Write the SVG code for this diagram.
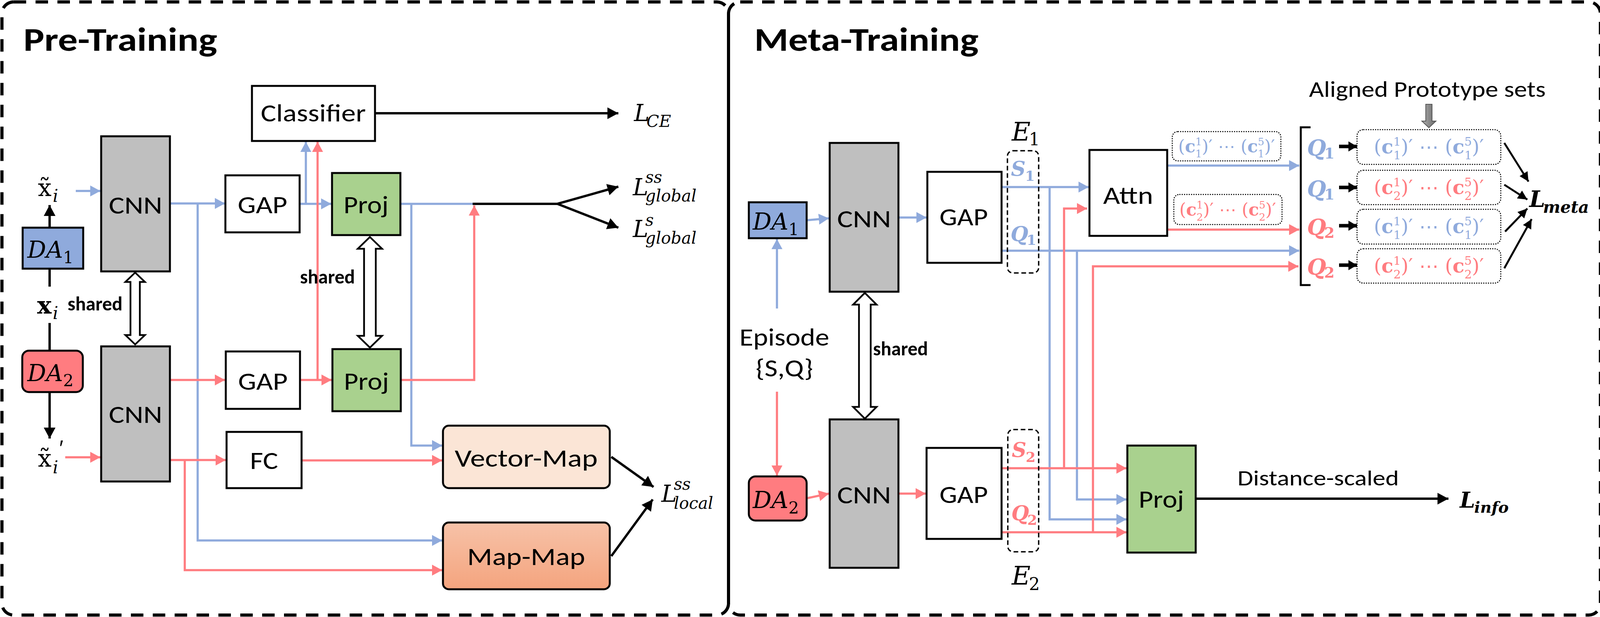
<svg xmlns="http://www.w3.org/2000/svg" width="4103" height="1580" viewBox="0 0 4103 1580">
<style>
.sans{font-family:Carlito,"Liberation Sans",Arial,sans-serif}
.lbl{font-size:63px;text-anchor:middle}
.bold{font-weight:bold}
.title{font-size:85px;font-weight:bold}
.shared{font-size:50px;font-weight:bold}
.m{font-family:"DejaVu Serif","Liberation Serif",serif}
.it{font-style:italic}
.bi{font-style:italic;font-weight:bold}
.cx{font-family:"DejaVu Serif","Liberation Serif",serif;font-size:50px;text-anchor:middle}
.cs{font-family:"DejaVu Serif","Liberation Serif",serif;font-size:44px;text-anchor:middle}
.bf{font-weight:bold}
.sb{font-size:30px}
.ss{font-size:26px}
.fb{fill:#8faadc}
.fr{fill:#ff7c80}
.box{stroke:#000;stroke-width:5}
.ln{fill:none;stroke-linejoin:miter}
.lb{stroke:#8faadc;stroke-width:5.5}
.lr{stroke:#ff7c80;stroke-width:5.5}
.lk{stroke:#000;stroke-width:6}
.dbl{fill:#fff;stroke:#000;stroke-width:4.5}
.dot{fill:none;stroke:#000;stroke-width:2.5;stroke-dasharray:3 3}
.dash{fill:none;stroke:#000;stroke-width:3.5;stroke-dasharray:12 7}
</style>
<defs>
<marker id="mb" viewBox="0 0 26 28" refX="26" refY="14" markerWidth="26" markerHeight="28" markerUnits="userSpaceOnUse" orient="auto"><path d="M0,0L26,14L0,28z" fill="#8faadc"/></marker>
<marker id="mr" viewBox="0 0 26 28" refX="26" refY="14" markerWidth="26" markerHeight="28" markerUnits="userSpaceOnUse" orient="auto"><path d="M0,0L26,14L0,28z" fill="#ff7c80"/></marker>
<marker id="mk" viewBox="0 0 28 30" refX="28" refY="15" markerWidth="28" markerHeight="30" markerUnits="userSpaceOnUse" orient="auto"><path d="M0,0L28,15L0,30z" fill="#000"/></marker>
<marker id="mk2" viewBox="0 0 24 24" refX="24" refY="12" markerWidth="24" markerHeight="24" markerUnits="userSpaceOnUse" orient="auto"><path d="M0,0L24,12L0,24z" fill="#000"/></marker>
<marker id="mk3" viewBox="0 0 22 26" refX="22" refY="13" markerWidth="22" markerHeight="26" markerUnits="userSpaceOnUse" orient="auto"><path d="M0,0L22,13L0,26z" fill="#000"/></marker>
<linearGradient id="gmm" x1="0" y1="0" x2="0" y2="1"><stop offset="0" stop-color="#f7c2a8"/><stop offset="1" stop-color="#f4a47e"/></linearGradient>
<linearGradient id="ggray" x1="0" y1="0" x2="1" y2="0"><stop offset="0" stop-color="#b0b0b0"/><stop offset="0.5" stop-color="#8a8a8a"/><stop offset="1" stop-color="#6e6e6e"/></linearGradient>
</defs>
<rect width="4103" height="1580" fill="#fff"/>

<g id="panels">
<rect x="5" y="5" width="1860" height="1570" rx="30" fill="none" stroke="#000" stroke-width="8" stroke-dasharray="32 24"/>
<rect x="1865" y="5" width="2232" height="1570" rx="30" fill="none" stroke="#000" stroke-width="8" stroke-dasharray="32 24"/>
<text class="sans title" x="60" y="130" textLength="496" lengthAdjust="spacingAndGlyphs">Pre-Training</text>
<text class="sans title" x="1931" y="130" textLength="574" lengthAdjust="spacingAndGlyphs">Meta-Training</text>
</g>

<g id="connectors">
<path class="ln lb" d="M194,489H257" marker-end="url(#mb)"/>
<path class="ln lb" d="M435,521H576" marker-end="url(#mb)"/>
<path class="ln lb" d="M506,521V1384H1132" marker-end="url(#mb)"/>
<path class="ln lb" d="M767,522H848" marker-end="url(#mb)"/>
<path class="ln lb" d="M783,522V363" marker-end="url(#mb)"/>
<path class="ln lb" d="M1025,522H1212"/>
<path class="ln lb" d="M1053,522V1141H1132" marker-end="url(#mb)"/>
<path class="ln lr" d="M167,1171H257" marker-end="url(#mr)"/>
<path class="ln lr" d="M435,973H576" marker-end="url(#mr)"/>
<path class="ln lr" d="M768,973H849" marker-end="url(#mr)"/>
<path class="ln lr" d="M813,973V363" marker-end="url(#mr)"/>
<path class="ln lr" d="M1026,973H1214V526" marker-end="url(#mr)"/>
<path class="ln lr" d="M435,1178H578" marker-end="url(#mr)"/>
<path class="ln lr" d="M473,1178V1460H1132" marker-end="url(#mr)"/>
<path class="ln lr" d="M772,1179H1132" marker-end="url(#mr)"/>
<path class="ln lk" d="M960,290H1583" marker-end="url(#mk)"/>
<path class="ln lk" d="M1210,522H1427L1583,478" marker-end="url(#mk)"/>
<path class="ln lk" d="M1427,522L1583,583" marker-end="url(#mk)"/>
<path class="ln lk" d="M127,583V525" marker-end="url(#mk)"/>
<path class="ln lk" d="M127,688V734M127,827V898"/>
<path class="ln lk" d="M127,1004V1123" marker-end="url(#mk)"/>
<path class="ln lk" d="M1565,1170L1673,1247" marker-end="url(#mk)"/>
<path class="ln lk" d="M1565,1424L1671,1279" marker-end="url(#mk)"/>
<polygon class="dbl" points="346,698 371,722 358,722 358,858 371,858 346,882 321,858 334,858 334,722 321,722"/>
<polygon class="dbl" points="947,607 978,637 962,637 962,860 978,860 947,890 916,860 932,860 932,637 916,637"/>
<path class="ln lb" d="M1989,790V612" marker-end="url(#mb)"/>
<path class="ln lb" d="M2065,564L2122,559" marker-end="url(#mb)"/>
<path class="ln lb" d="M2300,557H2372" marker-end="url(#mb)"/>
<path class="ln lb" d="M2564,479H2787" marker-end="url(#mb)"/>
<path class="ln lb" d="M2564,642H3326" marker-end="url(#mb)"/>
<path class="ln lb" d="M2687,479V1330H2884" marker-end="url(#mb)"/>
<path class="ln lb" d="M2757,642V1279H2884" marker-end="url(#mb)"/>
<path class="ln lb" d="M2988,424H3326" marker-end="url(#mb)"/>
<path class="ln lr" d="M1989,1003V1218" marker-end="url(#mr)"/>
<path class="ln lr" d="M2065,1276L2122,1264" marker-end="url(#mr)"/>
<path class="ln lr" d="M2300,1264H2370" marker-end="url(#mr)"/>
<path class="ln lr" d="M2564,1199H2884" marker-end="url(#mr)"/>
<path class="ln lr" d="M2724,1199V534H2783" marker-end="url(#mr)"/>
<path class="ln lr" d="M2564,1363H2884" marker-end="url(#mr)"/>
<path class="ln lr" d="M2798,1363V682H3324" marker-end="url(#mr)"/>
<path class="ln lr" d="M2988,588H3326" marker-end="url(#mr)"/>
<polygon class="dbl" points="2214,750 2244,780 2229,780 2229,1042 2244,1042 2214,1072 2184,1042 2199,1042 2199,780 2184,780"/>
<path class="ln" stroke="#000" stroke-width="5" d="M3355,326H3330V730H3355"/>
<path class="ln" stroke="#000" stroke-width="9" d="M3428,375H3474" marker-end="url(#mk3)"/>
<path class="ln" stroke="#000" stroke-width="9" d="M3428,480H3474" marker-end="url(#mk3)"/>
<path class="ln" stroke="#000" stroke-width="9" d="M3428,578H3474" marker-end="url(#mk3)"/>
<path class="ln" stroke="#000" stroke-width="9" d="M3428,679H3474" marker-end="url(#mk3)"/>
<path class="ln" stroke="#000" stroke-width="5" d="M3851,366L3913,465" marker-end="url(#mk2)"/>
<path class="ln" stroke="#000" stroke-width="5" d="M3851,473L3910,511" marker-end="url(#mk2)"/>
<path class="ln" stroke="#000" stroke-width="5" d="M3853,593L3910,534" marker-end="url(#mk2)"/>
<path class="ln" stroke="#000" stroke-width="5" d="M3851,687L3921,561" marker-end="url(#mk2)"/>
<path class="ln lk" d="M3061,1277H3708" marker-end="url(#mk)"/>
<polygon points="3650,267 3666,267 3666,310 3676,310 3658,327 3640,310 3650,310" fill="url(#ggray)" stroke="#555" stroke-width="2"/>
</g>

<g id="classifier"><rect class="box" x="645" y="220" width="315" height="141" fill="#fff"/><text class="sans lbl" x="802" y="311" textLength="269" lengthAdjust="spacingAndGlyphs">Classifier</text></g>
<g id="cnn1"><rect class="box" x="259" y="349" width="176" height="346" fill="#bfbfbf"/><text class="sans lbl" x="347" y="547" textLength="137" lengthAdjust="spacingAndGlyphs">CNN</text></g>
<g id="cnn2"><rect class="box" x="259" y="887" width="176" height="346" fill="#bfbfbf"/><text class="sans lbl" x="347" y="1083" textLength="137" lengthAdjust="spacingAndGlyphs">CNN</text></g>
<g id="gap1"><rect class="box" x="577" y="449" width="190" height="146" fill="#fff"/><text class="sans lbl" x="672" y="546" textLength="127" lengthAdjust="spacingAndGlyphs">GAP</text></g>
<g id="gap2"><rect class="box" x="578" y="900" width="190" height="147" fill="#fff"/><text class="sans lbl" x="673" y="998" textLength="127" lengthAdjust="spacingAndGlyphs">GAP</text></g>
<g id="proj1"><rect class="box" x="850" y="443" width="175" height="159" fill="#a9d18e"/><text class="sans lbl" x="937" y="546" textLength="115" lengthAdjust="spacingAndGlyphs">Proj</text></g>
<g id="proj2"><rect class="box" x="851" y="894" width="175" height="159" fill="#a9d18e"/><text class="sans lbl" x="938" y="998" textLength="115" lengthAdjust="spacingAndGlyphs">Proj</text></g>
<g id="fc"><rect class="box" x="580" y="1106" width="192" height="144" fill="#fff"/><text class="sans lbl" x="676" y="1201" textLength="72" lengthAdjust="spacingAndGlyphs">FC</text></g>
<g id="vectormap"><rect class="box" x="1134" y="1090" width="427" height="160" rx="15" fill="#fbe5d6"/><text class="sans lbl" x="1347" y="1195" textLength="366" lengthAdjust="spacingAndGlyphs">Vector-Map</text></g>
<g id="mapmap"><rect class="box" x="1134" y="1338" width="427" height="171" rx="15" fill="url(#gmm)"/><text class="sans lbl" x="1347" y="1447" textLength="302" lengthAdjust="spacingAndGlyphs">Map-Map</text></g>
<g id="da1"><rect class="box" x="58" y="583" width="155" height="105" fill="#8faadc"/><text class="m" x="70" y="660" font-size="60"><tspan class="it">DA</tspan><tspan font-size="42" dy="14">1</tspan></text></g>
<g id="da2"><rect class="box" x="57" y="898" width="155" height="106" rx="17" fill="#ff7c80"/><text class="m" x="70" y="976" font-size="60"><tspan class="it">DA</tspan><tspan font-size="42" dy="13">2</tspan></text></g>
<g id="pre-labels">
<text class="m" x="97" y="502" font-size="62">x̃<tspan class="it" font-size="44" x="135" y="517">i</tspan></text>
<text class="m" x="95" y="803" font-size="62"><tspan class="bf">x</tspan><tspan class="it" font-size="44" x="135" y="817">i</tspan></text>
<text class="m" x="97" y="1195" font-size="62">x̃<tspan class="it" font-size="44" x="135" y="1212">i</tspan><tspan class="sans it" font-size="56" x="149" y="1166">′</tspan></text>
<text class="sans shared" x="173" y="795">shared</text>
<text class="sans shared" x="768" y="726">shared</text>
<text class="m it" x="1623" y="310" font-size="60">L<tspan font-size="42" x="1655" y="325">CE</tspan></text>
<text class="m it" x="1620" y="500" font-size="60">L<tspan font-size="42" x="1652" y="468">ss</tspan><tspan font-size="42" x="1652" y="516">global</tspan></text>
<text class="m it" x="1620" y="607" font-size="60">L<tspan font-size="42" x="1652" y="578">s</tspan><tspan font-size="42" x="1652" y="624">global</tspan></text>
<text class="m it" x="1693" y="1285" font-size="60">L<tspan font-size="42" x="1725" y="1254">ss</tspan><tspan font-size="42" x="1725" y="1303">local</tspan></text>
</g>

<g id="mda1"><rect class="box" x="1917" y="518" width="148" height="92" fill="#8faadc"/><text class="m" x="1927" y="588" font-size="60"><tspan class="it">DA</tspan><tspan font-size="42" dy="14">1</tspan></text></g>
<g id="mda2"><rect class="box" x="1917" y="1220" width="148" height="113" rx="17" fill="#ff7c80"/><text class="m" x="1927" y="1301" font-size="60"><tspan class="it">DA</tspan><tspan font-size="42" dy="14">2</tspan></text></g>
<g id="episode"><text class="sans lbl" x="2008" y="885" font-size="60" textLength="230" lengthAdjust="spacingAndGlyphs">Episode</text><text class="sans lbl" x="2008" y="964" textLength="147" lengthAdjust="spacingAndGlyphs">{S,Q}</text></g>
<g id="mcnn1"><rect class="box" x="2124" y="366" width="176" height="381" fill="#bfbfbf"/><text class="sans lbl" x="2212" y="582" textLength="138" lengthAdjust="spacingAndGlyphs">CNN</text></g>
<g id="mcnn2"><rect class="box" x="2124" y="1074" width="176" height="380" fill="#bfbfbf"/><text class="sans lbl" x="2212" y="1289" textLength="138" lengthAdjust="spacingAndGlyphs">CNN</text></g>
<text class="sans shared" x="2235" y="910">shared</text>
<g id="mgap1"><rect class="box" x="2374" y="440" width="190" height="233" fill="#fff"/><text class="sans lbl" x="2467" y="577" textLength="124" lengthAdjust="spacingAndGlyphs">GAP</text></g>
<g id="mgap2"><rect class="box" x="2372" y="1147" width="192" height="233" fill="#fff"/><text class="sans lbl" x="2467" y="1288" textLength="124" lengthAdjust="spacingAndGlyphs">GAP</text></g>
<g id="e1"><rect class="dash" x="2579" y="386" width="80" height="313" rx="14"/>
<text class="m" x="2590" y="360" font-size="66"><tspan class="it">E</tspan><tspan font-size="44" x="2634" y="372">1</tspan></text>
<text class="m bf fb" x="2588" y="450" font-size="52"><tspan class="it">S</tspan><tspan font-size="36" x="2624" y="463">1</tspan></text>
<text class="m bf fb" x="2587" y="617" font-size="52"><tspan class="it">Q</tspan><tspan font-size="36" x="2628" y="627">1</tspan></text></g>
<g id="e2"><rect class="dash" x="2580" y="1100" width="79" height="313" rx="14"/>
<text class="m" x="2590" y="1497" font-size="66"><tspan class="it">E</tspan><tspan font-size="44" x="2634" y="1511">2</tspan></text>
<text class="m bf fr" x="2590" y="1170" font-size="52"><tspan class="it">S</tspan><tspan font-size="36" x="2626" y="1183">2</tspan></text>
<text class="m bf fr" x="2589" y="1332" font-size="52"><tspan class="it">Q</tspan><tspan font-size="36" x="2630" y="1344">2</tspan></text></g>
<g id="attn"><rect class="box" x="2789" y="384" width="199" height="220" fill="#fff"/><text class="sans lbl" x="2888" y="522" textLength="128" lengthAdjust="spacingAndGlyphs">Attn</text></g>
<g id="mproj"><rect class="box" x="2886" y="1141" width="175" height="274" fill="#a9d18e"/><text class="sans lbl" x="2973" y="1300" textLength="116" lengthAdjust="spacingAndGlyphs">Proj</text></g>
<g id="proto-small">
<rect class="dot" x="3001" y="337" width="278" height="75" rx="14"/>
<text class="cs fb" x="3140" y="390">(<tspan class="bf">c</tspan><tspan class="ss" dy="-18">1</tspan><tspan class="ss" dx="-16.5" dy="31">1</tspan><tspan dy="-13">)′ ⋯ (</tspan><tspan class="bf">c</tspan><tspan class="ss" dy="-18">5</tspan><tspan class="ss" dx="-16.5" dy="31">1</tspan><tspan dy="-13">)′</tspan></text>
<rect class="dot" x="3005" y="498" width="277" height="77" rx="14"/>
<text class="cs fr" x="3143" y="552">(<tspan class="bf">c</tspan><tspan class="ss" dy="-18">1</tspan><tspan class="ss" dx="-16.5" dy="31">2</tspan><tspan dy="-13">)′ ⋯ (</tspan><tspan class="bf">c</tspan><tspan class="ss" dy="-18">5</tspan><tspan class="ss" dx="-16.5" dy="31">2</tspan><tspan dy="-13">)′</tspan></text>
</g>
<g id="proto-aligned">
<text class="sans" x="3654" y="248" font-size="57" text-anchor="middle" textLength="606" lengthAdjust="spacingAndGlyphs">Aligned Prototype sets</text>
<text class="m bf fb" x="3346" y="398" font-size="56"><tspan class="it">Q</tspan><tspan font-size="38" x="3390" y="406">1</tspan></text>
<text class="m bf fb" x="3346" y="503" font-size="56"><tspan class="it">Q</tspan><tspan font-size="38" x="3390" y="511">1</tspan></text>
<text class="m bf fr" x="3346" y="601" font-size="56"><tspan class="it">Q</tspan><tspan font-size="38" x="3390" y="609">2</tspan></text>
<text class="m bf fr" x="3346" y="703" font-size="56"><tspan class="it">Q</tspan><tspan font-size="38" x="3390" y="711">2</tspan></text>
<rect class="dot" x="3474" y="332" width="368" height="89" rx="16"/>
<text class="cx fb" x="3658" y="393">(<tspan class="bf">c</tspan><tspan class="sb" dy="-20">1</tspan><tspan class="sb" dx="-19" dy="35">1</tspan><tspan dy="-15">)′ ⋯ (</tspan><tspan class="bf">c</tspan><tspan class="sb" dy="-20">5</tspan><tspan class="sb" dx="-19" dy="35">1</tspan><tspan dy="-15">)′</tspan></text>
<rect class="dot" x="3474" y="436" width="368" height="88" rx="16"/>
<text class="cx fr" x="3658" y="497">(<tspan class="bf">c</tspan><tspan class="sb" dy="-20">1</tspan><tspan class="sb" dx="-19" dy="35">2</tspan><tspan dy="-15">)′ ⋯ (</tspan><tspan class="bf">c</tspan><tspan class="sb" dy="-20">5</tspan><tspan class="sb" dx="-19" dy="35">2</tspan><tspan dy="-15">)′</tspan></text>
<rect class="dot" x="3474" y="536" width="368" height="89" rx="16"/>
<text class="cx fb" x="3658" y="597">(<tspan class="bf">c</tspan><tspan class="sb" dy="-20">1</tspan><tspan class="sb" dx="-19" dy="35">1</tspan><tspan dy="-15">)′ ⋯ (</tspan><tspan class="bf">c</tspan><tspan class="sb" dy="-20">5</tspan><tspan class="sb" dx="-19" dy="35">1</tspan><tspan dy="-15">)′</tspan></text>
<rect class="dot" x="3474" y="637" width="368" height="88" rx="16"/>
<text class="cx fr" x="3658" y="698">(<tspan class="bf">c</tspan><tspan class="sb" dy="-20">1</tspan><tspan class="sb" dx="-19" dy="35">2</tspan><tspan dy="-15">)′ ⋯ (</tspan><tspan class="bf">c</tspan><tspan class="sb" dy="-20">5</tspan><tspan class="sb" dx="-19" dy="35">2</tspan><tspan dy="-15">)′</tspan></text>
</g>
<g id="losses-meta">
<text class="m bi" x="3915" y="530" font-size="58">L<tspan font-size="42" x="3950" y="545">meta</tspan></text>
<text class="sans" x="3168" y="1243" font-size="56" textLength="413" lengthAdjust="spacingAndGlyphs">Distance-scaled</text>
<text class="m bi" x="3737" y="1300" font-size="56">L<tspan font-size="40" x="3774" y="1313">info</tspan></text>
</g>
</svg>
